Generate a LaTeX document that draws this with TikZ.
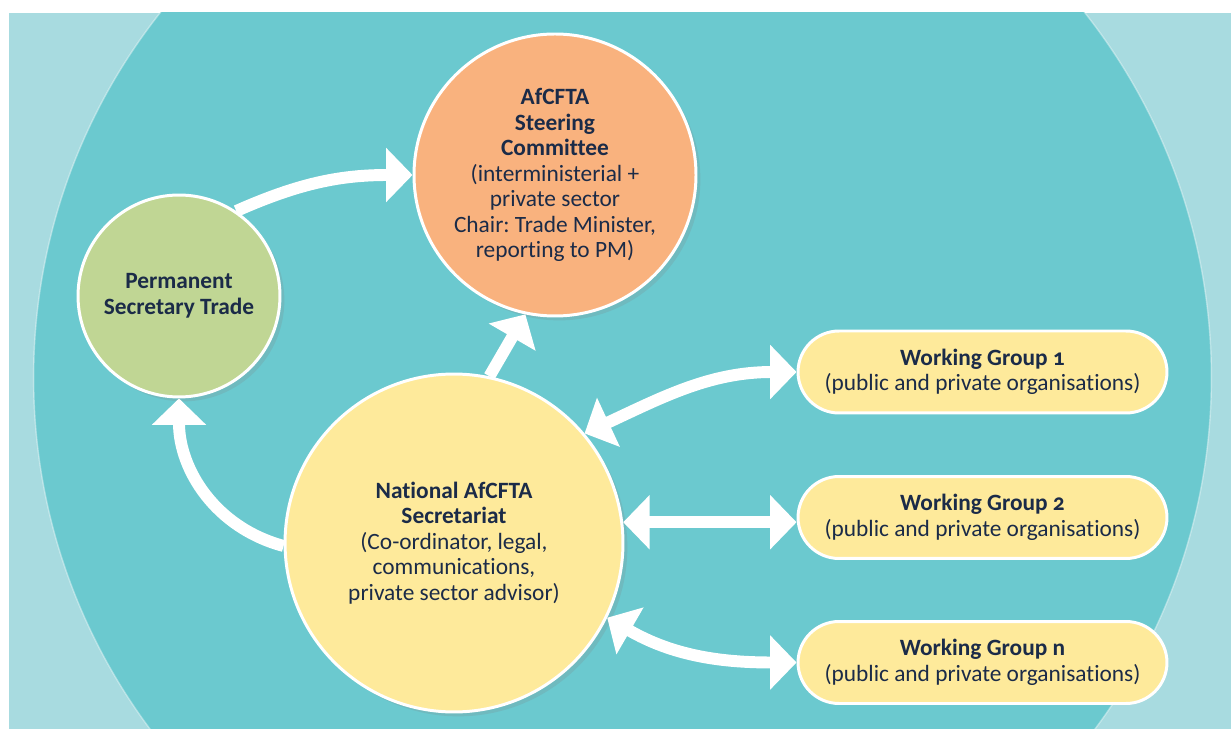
\documentclass[tikz,border=0pt]{standalone}
\usepackage{fontspec}
\setmainfont[Numbers=OldStyle,Ligatures=NoCommon]{Carlito}
\frenchspacing
\usetikzlibrary{arrows.meta,shadows}

\definecolor{paleblue}{HTML}{A8DBE0}
\definecolor{ringteal}{HTML}{6BC9CF}
\definecolor{pstgreen}{HTML}{C0D694}
\definecolor{scorange}{HTML}{F9B27E}
\definecolor{secyellow}{HTML}{FEEA9B}
\definecolor{navy}{HTML}{1B2B48}

\tikzset{
    labeltext/.style={text=navy,align=center,font=\fontsize{13.3}{14.5}\selectfont},
    bubble/.style={circle,draw=white,line width=1.7pt,labeltext,
        drop shadow={shadow xshift=2.5pt,shadow yshift=-2.5pt,opacity=0.2}},
    wgbox/.style={rectangle,rounded corners=0.82cm,draw=white,line width=1.7pt,
        fill=secyellow,minimum width=7.38cm,minimum height=1.64cm,labeltext},
    flow/.style={draw=white,line width=6.8pt,-{Triangle[length=15pt,width=30pt]}},
    dflow/.style={flow,{Triangle[length=15pt,width=30pt]}-{Triangle[length=15pt,width=30pt]}},
}

\begin{document}
\begin{tikzpicture}[x=0.02cm,y=-0.02cm]
        \useasboundingbox (0,0) rectangle (1231,729);
        %% Background
        \fill[paleblue] (9,13) rectangle (1231,729);
        \begin{scope}
            \clip (9,13) rectangle (1231,729);
            \filldraw[fill=ringteal,draw=white,draw opacity=0.4,line width=0.8pt]
                (622.5,377.5) circle (11.78cm);
        \end{scope}
        %% Circles
        \node[bubble,fill=pstgreen,minimum size=4.04cm] (PST) at (179,296)
            {\textbf{Permanent}\\\textbf{Secretary Trade}};
        \node[bubble,fill=scorange,minimum size=5.4cm] (SC) at (555,175)
            {\textbf{AfCFTA}\\\textbf{Steering}\\\textbf{Committee}\\
             (interministerial +\\private sector\\Chair: Trade Minister,\\reporting to PM)};
        \node[bubble,fill=secyellow,minimum size=6.76cm] (Sec) at (454,543)
            {\textbf{National AfCFTA}\\\textbf{Secretariat}\\(Co-ordinator, legal,\\
             communications,\\private sector advisor)};
        %% Working groups
        \node[wgbox] (WG1) at (982.5,372)
            {\textbf{Working Group 1}\\(public and private organisations)};
        \node[wgbox] (WG2) at (982.5,517.5)
            {\textbf{Working Group 2}\\(public and private organisations)};
        \node[wgbox] (WGn) at (982.5,662.5)
            {\textbf{Working Group n}\\(public and private organisations)};
        %% Arrows
        \draw[flow] (PST.56) to[out=24,in=180] (SC.west);
        \draw[flow] (Sec.78) -- (SC.258);
        \draw[flow] (Sec.181) to[out=165,in=-90] (PST.south);
        \draw[dflow] (Sec.40) to[out=25,in=180] (WG1.west);
        \draw[dflow] (Sec.7) -- (Sec.7 -| WG2.west);
        \draw[dflow] (Sec.-26) to[out=-30,in=180] (WGn.west);
    \end{tikzpicture}
\end{document}
